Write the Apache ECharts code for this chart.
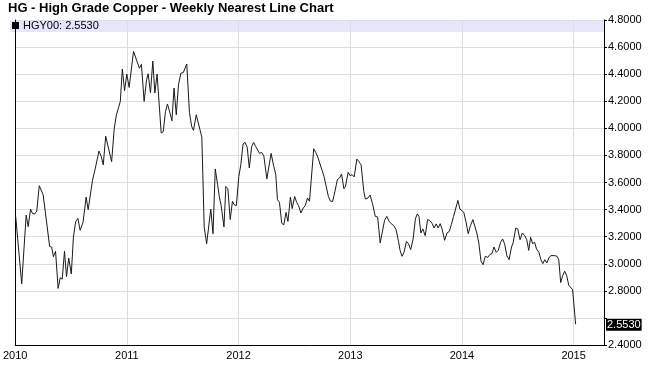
<!DOCTYPE html>
<html><head><meta charset="utf-8">
<script src="https://cdn.jsdelivr.net/npm/echarts@6/dist/echarts.min.js"></script>
<style>html,body{margin:0;padding:0;background:#fff}#c{width:650px;height:386px}</style>
</head><body><div id="c"></div>
<script>
const titleText = 'HG - High Grade Copper - Weekly Nearest Line Chart';
const symbolName = 'HGY00';
// time in decimal years (weekly closes)
const times = [
2010.004,2010.020,2010.058,2010.098,2010.116,2010.137,2010.155,2010.175,2010.193,2010.215,2010.230,2010.250,2010.266,
2010.308,2010.326,2010.342,2010.361,2010.384,2010.403,2010.421,2010.441,2010.459,2010.479,2010.502,
2010.521,2010.541,2010.561,2010.581,2010.607,2010.635,2010.653,2010.692,2010.714,2010.750,2010.770,2010.788,
2010.810,2010.863,2010.887,2010.906,2010.925,2010.941,2010.959,2010.979,2010.999,2011.020,
2011.059,2011.112,2011.130,2011.154,2011.176,2011.190,2011.211,2011.232,2011.250,2011.270,
2011.307,2011.325,2011.345,2011.363,2011.381,2011.403,2011.422,2011.442,2011.462,2011.483,2011.505,2011.522,2011.536,
2011.560,2011.580,2011.596,2011.621,2011.638,2011.671,2011.692,2011.714,2011.751,2011.771,
2011.791,2011.812,2011.827,2011.844,2011.869,2011.886,2011.904,2011.925,2011.945,2011.960,2011.980,
2012.002,2012.020,2012.040,2012.058,2012.077,2012.096,2012.117,2012.135,2012.153,2012.167,2012.188,2012.206,2012.226,
2012.253,2012.291,2012.315,2012.333,2012.348,2012.366,2012.386,2012.404,2012.425,2012.442,
2012.464,2012.480,2012.502,2012.520,2012.537,2012.558,2012.579,2012.597,2012.617,2012.635,
2012.673,2012.691,2012.709,2012.726,2012.765,2012.804,2012.824,2012.842,
2012.863,2012.884,2012.904,2012.922,2012.943,2012.957,2012.981,2012.999,2013.017,2013.035,
2013.059,2013.076,2013.097,2013.121,2013.135,2013.159,2013.177,2013.199,2013.224,2013.245,
2013.268,2013.283,2013.307,2013.327,2013.348,2013.366,2013.390,2013.410,2013.432,2013.446,
2013.463,2013.481,2013.503,2013.521,2013.541,2013.562,2013.583,2013.600,2013.615,2013.632,
2013.650,2013.671,2013.692,2013.712,2013.734,2013.751,2013.769,2013.787,2013.805,2013.822,
2013.845,2013.866,2013.887,2013.905,2013.925,2013.940,2013.964,2013.982,2013.998,2014.016,
2014.038,2014.056,2014.076,2014.098,2014.112,2014.133,2014.151,2014.171,2014.189,2014.209,
2014.231,2014.249,2014.269,2014.287,2014.307,2014.325,2014.346,2014.364,2014.382,2014.402,
2014.422,2014.444,2014.458,2014.482,2014.500,2014.520,2014.541,2014.562,2014.580,2014.598,
2014.615,2014.633,2014.651,2014.668,2014.689,2014.707,2014.724,2014.742,2014.760,2014.778,
2014.796,2014.813,2014.831,2014.852,2014.867,2014.884,2014.902,2014.920,2014.938,2014.956,
2014.973,2014.991,2015.018
];
const prices = [
3.350,3.345,2.852,3.360,3.274,3.403,3.371,3.368,3.390,3.576,3.582,3.510,3.508,
3.128,3.123,3.052,3.092,2.818,2.897,2.886,3.093,2.905,3.043,2.925,
3.196,3.311,3.335,3.247,3.305,3.492,3.399,3.617,3.694,3.832,3.793,3.730,
3.942,3.754,4.002,4.100,4.152,4.199,4.438,4.278,4.401,4.302,
4.568,4.444,4.473,4.199,4.359,4.403,4.263,4.497,4.261,4.401,
3.965,3.975,4.123,4.180,4.128,4.056,4.297,4.100,4.322,4.407,4.412,4.401,4.475,
4.117,4.014,3.985,4.100,4.104,3.934,3.270,3.148,3.404,3.222,
3.700,3.584,3.497,3.429,3.272,3.571,3.554,3.326,3.461,3.436,3.429,
3.645,3.731,3.885,3.896,3.861,3.707,3.866,3.896,3.866,3.878,3.815,3.822,3.796,
3.626,3.815,3.719,3.658,3.473,3.453,3.301,3.286,3.379,3.313,
3.492,3.407,3.497,3.453,3.429,3.375,3.412,3.429,3.486,3.461,
3.849,3.822,3.788,3.781,3.645,3.497,3.461,3.461,
3.534,3.621,3.633,3.663,3.554,3.571,3.675,3.650,3.658,3.641,
3.773,3.756,3.731,3.534,3.478,3.486,3.508,3.444,3.350,3.345,
3.154,3.168,3.320,3.350,3.313,3.296,3.281,3.252,3.165,3.099,
3.055,3.084,3.165,3.148,3.104,3.178,3.331,3.368,3.350,3.227,
3.257,3.207,3.326,3.320,3.296,3.264,3.294,3.264,3.296,3.257,
3.173,3.227,3.239,3.289,3.350,3.345,3.468,3.404,3.396,3.381,
3.303,3.222,3.281,3.326,3.338,3.227,3.154,3.018,2.993,3.055,
3.047,3.067,3.075,3.124,3.084,3.099,3.158,3.183,3.148,3.060,
3.030,3.124,3.154,3.264,3.257,3.178,3.227,3.207,3.178,3.099,
3.195,3.148,3.158,3.109,3.084,3.030,3.001,3.030,3.006,3.043,
3.060,3.060,3.060,3.055,3.030,2.861,2.912,2.945,2.912,2.842,
2.838,2.809,2.553
];
const yearTicks = [2010, 2011, 2012, 2013, 2014, 2015];

const FONT = 'Liberation Sans, Arial, sans-serif';
const n = Math.min(times.length, prices.length);
const seriesData = [];
for (let i = 0; i < n; i++) seriesData.push([times[i], prices[i]]);
const last = prices[n - 1];
const seriesName = symbolName + ': ' + last.toFixed(4);

const chart = echarts.init(document.getElementById('c'), null, {renderer: 'canvas'});
chart.setOption({
  animation: false,
  backgroundColor: '#fff',
  title: {
    text: titleText, left: 8, top: 2, padding: 0,
    textStyle: {fontFamily: FONT, fontSize: 13, fontWeight: 'bold', color: '#000'}
  },
  legend: {
    data: [seriesName], left: 12, top: 20, padding: 0,
    icon: 'rect', itemWidth: 7, itemHeight: 7, itemGap: 4,
    textStyle: {fontFamily: FONT, fontSize: 11, color: '#000', padding: [0, 0, 0, -1]},
    selectedMode: false
  },
  grid: {left: 10, right: 46, top: 20, bottom: 41},
  graphic: [{
    type: 'rect', z: -1, silent: true,
    shape: {x: 10, y: 20, width: 594, height: 12},
    style: {fill: '#e6e6fa'}
  }],
  xAxis: {
    type: 'value', min: yearTicks[0], max: 2015.272, interval: 1,
    axisLine: {show: true, onZero: false, lineStyle: {color: '#000', width: 1}},
    axisTick: {show: false},
    axisLabel: {
      formatter: v => yearTicks.indexOf(v) >= 0 ? String(v) : '',
      fontFamily: FONT, fontSize: 11, color: '#000', margin: 5
    },
    splitLine: {show: true, lineStyle: {color: '#dddddd', width: 1}}
  },
  yAxis: [{
    type: 'value', position: 'right', min: 2.4, max: 4.8, interval: 0.2,
    axisLine: {show: true, onZero: false, lineStyle: {color: '#000', width: 1}},
    axisTick: {show: true, length: 3, lineStyle: {color: '#000'}},
    axisLabel: {
      formatter: v => Math.abs(v - last) < 0.06 ? '' : v.toFixed(4),
      fontFamily: FONT, fontSize: 11, color: '#000', margin: 4
    },
    splitLine: {show: true, lineStyle: {color: '#dddddd', width: 1}}
  }, {
    type: 'value', position: 'left', min: 2.4, max: 4.8, interval: 0.2,
    axisLine: {show: true, onZero: false, lineStyle: {color: '#000', width: 1}},
    axisTick: {show: false}, axisLabel: {show: false}, splitLine: {show: false}
  }],
  series: [{
    type: 'line', name: seriesName, data: seriesData,
    symbol: 'none', showSymbol: false,
    lineStyle: {color: '#1a1a1a', width: 1},
    itemStyle: {color: '#000'},
    markLine: {
      silent: true, symbol: 'none', animation: false,
      data: [{yAxis: last}],
      lineStyle: {color: 'transparent', width: 0},
      label: {
        position: 'end', distance: 2,
        formatter: last.toFixed(4),
        fontFamily: FONT, fontSize: 11, color: '#fff',
        backgroundColor: '#000', padding: [1, 1, 0, 1]
      }
    }
  }]
});
</script>
</body></html>
